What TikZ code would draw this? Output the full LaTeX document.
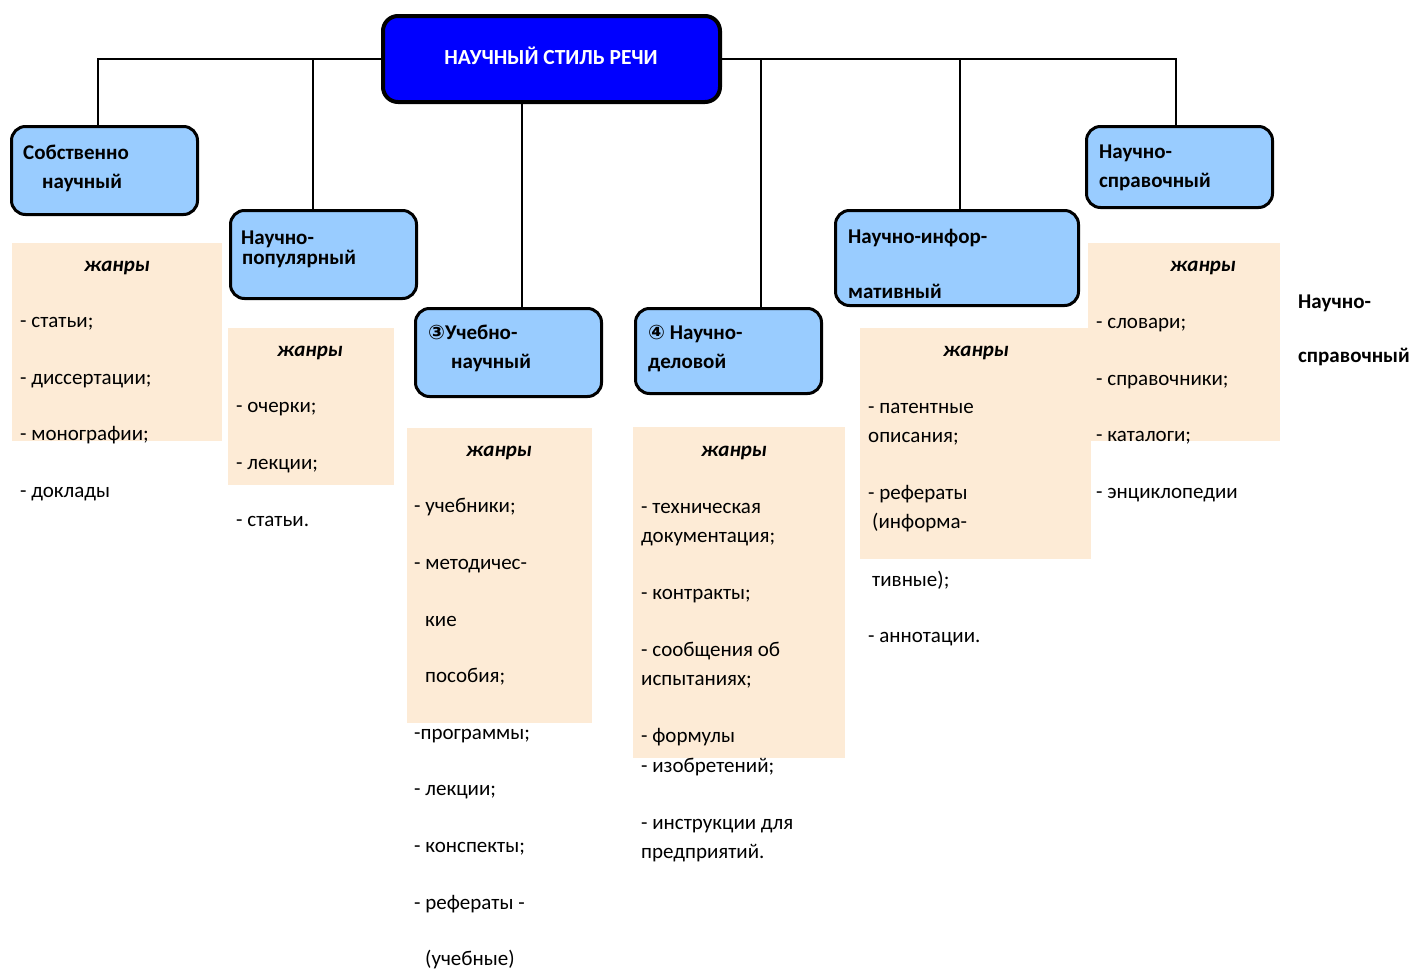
\documentclass[tikz,border=0pt]{standalone}
\usepackage{fontspec}
\setmainfont{Carlito}
\newfontfamily\symfont{DejaVu Sans}
\definecolor{mainblue}{RGB}{0,0,255}
\definecolor{lightblue}{RGB}{153,204,255}
\definecolor{peach}{RGB}{253,235,214}
\tikzset{
  box/.style={draw=black, line width=3pt, rounded corners=14pt, fill=lightblue, anchor=north west, inner sep=0pt},
  mainbox/.style={draw=black, line width=4pt, rounded corners=15pt, fill=mainblue, anchor=north west, inner sep=0pt},
  genre/.style={fill=peach, draw=none, anchor=north west, inner sep=0pt, outer sep=0pt},
  conn/.style={draw=black, line width=2pt},
  item/.style={anchor=base west, inner sep=0pt, font=\fontsize{21}{25}\selectfont},
  btxt/.style={anchor=base west, inner sep=0pt, font=\fontsize{21}{25}\selectfont\bfseries},
  head/.style={anchor=base, inner sep=0pt, font=\fontsize{21}{25}\selectfont\bfseries\itshape},
}
\begin{document}
\begin{tikzpicture}[x=1pt,y=-1pt]
\useasboundingbox (0,0) rectangle (1414,969);
% genre backgrounds
\node[genre, minimum width=210, minimum height=198] (g1) at (12,243) {};
\node[genre, minimum width=166, minimum height=157] (g2) at (228,328) {};
\node[genre, minimum width=185, minimum height=295] (g3) at (407,428) {};
\node[genre, minimum width=212, minimum height=331] (g4) at (633,427) {};
\node[genre, minimum width=192, minimum height=198] (g6) at (1088,243) {};
\node[genre, minimum width=231, minimum height=231] (g5) at (860,328) {};
% boxes
\node[mainbox, minimum width=337, minimum height=86] (main) at (381,14) {};
\node[box, minimum width=186, minimum height=88] (b1) at (10,125) {};
\node[box, minimum width=186, minimum height=88] (b2) at (229,209) {};
\node[box, minimum width=186, minimum height=88] (b3) at (414,307) {};
\node[box, minimum width=186, minimum height=85] (b4) at (634,307) {};
\node[box, minimum width=243, minimum height=95] (b5) at (834,209) {};
\node[box, minimum width=186, minimum height=81] (b6) at (1085,125) {};
% junctions
\coordinate (j1) at (98,59);
\coordinate (j2) at (313,59);
\coordinate (j3) at (522,104);
\coordinate (j4) at (761,59);
\coordinate (j5) at (960,59);
\coordinate (j6) at (1176,59);
% connectors
\draw[conn] (main.west) -- (j1) -- (j1 |- b1.north);
\draw[conn] (j2) -- (j2 |- b2.north);
\draw[conn] (j3) -- (j3 |- b3.north);
\draw[conn] (main.east) -- (j6) -- (j6 |- b6.north);
\draw[conn] (j4) -- (j4 |- b4.north);
\draw[conn] (j5) -- (j5 |- b5.north);
% box texts
\node[anchor=base, inner sep=0pt, text=white, font=\fontsize{21.5}{25}\selectfont\bfseries] (mt) at (551,64) {НАУЧНЫЙ СТИЛЬ РЕЧИ};
\node[btxt] (b1a) at (23,159) {Собственно};
\node[btxt] (b1b) at (42,188) {научный};
\node[btxt] (b2a) at (241,244) {Научно-};
\node[btxt] (b2b) at (242,264) {популярный};
\node[btxt] (b3a) at (428,339) {{\symfont\fontsize{20}{22}\selectfont ③}Учебно-};
\node[btxt] (b3b) at (451,368) {научный};
\node[btxt] (b4a) at (648,339) {{\symfont\fontsize{20}{22}\selectfont ④} Научно-};
\node[btxt] (b4b) at (648,368) {деловой};
\node[btxt] (b5a) at (848,243) {Научно-инфор-};
\node[btxt] (b5b) at (848,298) {мативный};
\node[btxt] (b6a) at (1099,158) {Научно-};
\node[btxt] (b6b) at (1099,187) {справочный};
\node[btxt] (fa) at (1298,308) {Научно-};
\node[btxt] (fb) at (1298,362) {справочный};
% genre headings
\node[head] (h1) at (117,271) {жанры};
\node[head] (h2) at (310,356) {жанры};
\node[head] (h3) at (499,456) {жанры};
\node[head] (h4) at (734,456) {жанры};
\node[head] (h5) at (976,356) {жанры};
\node[head] (h6) at (1203,271) {жанры};
% lists
\foreach \xx/\yy/\txt [count=\i] in {20/327/- статьи;, 20/384/- диссертации;, 20/440/- монографии;, 20/497/- доклады}
  \node[item] (l1n\i) at (\xx,\yy) {\txt};
\foreach \xx/\yy/\txt [count=\i] in {236/412/- очерки;, 236/469/- лекции;, 236/526/- статьи.}
  \node[item] (l2n\i) at (\xx,\yy) {\txt};
\foreach \xx/\yy/\txt [count=\i] in {414/512/- учебники;, 414/569/- методичес-, 425/626/кие, 425/682/пособия;, 414/739/-программы;, 414/795/- лекции;, 414/852/- конспекты;, 414/909/- рефераты -, 425/965/(учебные)}
  \node[item] (l3n\i) at (\xx,\yy) {\txt};
\foreach \xx/\yy/\txt [count=\i] in {641/513/- техническая, 641/542/документация;, 641/599/- контракты;, 641/656/- сообщения об, 641/685/испытаниях;, 641/742/- формулы, 641/772/- изобретений;, 641/829/- инструкции для, 641/858/предприятий.}
  \node[item] (l4n\i) at (\xx,\yy) {\txt};
\foreach \xx/\yy/\txt [count=\i] in {868/413/- патентные, 868/442/описания;, 868/499/- рефераты, 872/528/(информа-, 872/586/тивные);, 868/642/- аннотации.}
  \node[item] (l5n\i) at (\xx,\yy) {\txt};
\foreach \xx/\yy/\txt [count=\i] in {1096/328/- словари;, 1096/385/- справочники;, 1096/441/- каталоги;, 1096/498/- энциклопедии}
  \node[item] (l6n\i) at (\xx,\yy) {\txt};
\end{tikzpicture}
\end{document}
